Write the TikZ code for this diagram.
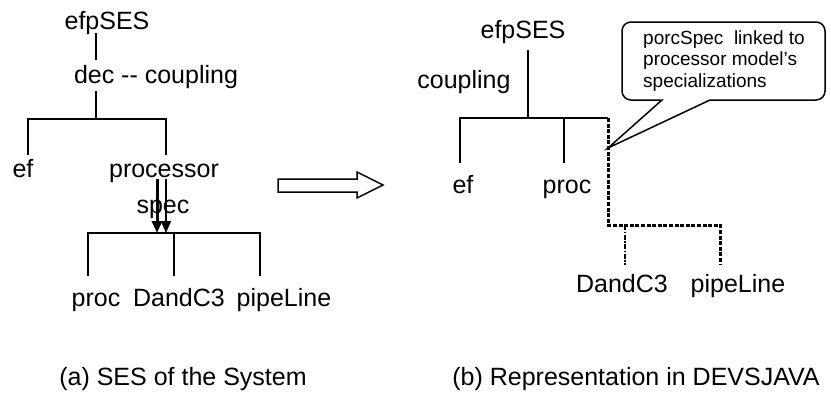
\documentclass[tikz,border=0pt]{standalone}
\usepackage{fontspec}
\setmainfont{Liberation Sans}
\usetikzlibrary{arrows.meta}
\begin{document}
\begin{tikzpicture}[x=1pt,y=-1pt,
  lbl/.style={font=\fontsize{25}{30}\selectfont, inner sep=0pt, anchor=base},
  note/.style={font=\fontsize{19}{21.5}\selectfont, inner sep=0pt, anchor=base west, align=left},
  tree/.style={line width=1.8pt},
  dashtree/.style={line width=3pt, dash pattern=on 4pt off 1.6pt},
  dashdot/.style={line width=1.8pt, dash pattern=on 5pt off 1.5pt on 1.5pt off 1.5pt},
  specarrow/.style={-{Triangle[length=12pt,width=10pt]}}]
\useasboundingbox (0,0) rectangle (831,394);

% ---------- left: SES ----------
\node[lbl] (LS) at (107,29) {efpSES};
\node[lbl] (Ldec) at (156,83) {dec -{}- coupling};
\node[lbl] (Lef) at (23,177) {ef};
\node[lbl] (Lproc) at (164,177) {processor};
\node[lbl] (Lspec) at (163,213) {spec};
\node[lbl] (Lp) at (96,306) {proc};
\node[lbl] (Ldc) at (179,306) {DandC3};
\node[lbl] (Lpl) at (284,306) {pipeLine};

\coordinate (La) at (96,33);
\coordinate (Lb) at (96,60);
\coordinate (Lc) at (96,91);
\coordinate (Lh) at (96,119);
\coordinate (LhL) at (28,119);
\coordinate (LhR) at (166,119);
\coordinate (LefT) at (28,155);
\coordinate (LprT) at (166,155);
\draw[tree] (La) -- (Lb);
\draw[tree] (Lc) -- (Lh);
\draw[tree] (LefT) -- (LhL) -- (LhR) -- (LprT);

\coordinate (A1s) at (157,179);
\coordinate (A1e) at (157,233);
\coordinate (A2s) at (166,179);
\coordinate (A2e) at (166,233);
\draw[specarrow, line width=3pt] (A1s) -- (A1e);
\draw[specarrow, line width=1.8pt] (A2s) -- (A2e);

\coordinate (BL) at (88,233);
\coordinate (BM) at (174,233);
\coordinate (BR) at (260,233);
\coordinate (BLd) at (88,276);
\coordinate (BMd) at (174,276);
\coordinate (BRd) at (260,276);
\draw[tree] (BLd) -- (BL) -- (BR) -- (BRd);
\draw[tree] (BM) -- (BMd);

% ---------- block arrow ----------
\draw[line width=1.5pt, fill=white] (278,179) -- (357,179) -- (357,172) -- (383,185)
  -- (357,198) -- (357,192) -- (278,192) -- cycle;

% ---------- right: DEVSJAVA ----------
\node[lbl] (RS) at (523,38) {efpSES};
\node[lbl] (Rcp) at (464,88) {coupling};
\node[lbl] (Ref) at (463,193) {ef};
\node[lbl] (Rpr) at (567,193) {proc};
\node[lbl] (Rdc) at (622,292) {DandC3};
\node[lbl] (Rpl) at (738,292) {pipeLine};

\coordinate (Ra) at (528,50);
\coordinate (Rh) at (528,118);
\coordinate (RhL) at (460,118);
\coordinate (RhM) at (564,118);
\coordinate (RhR) at (608,118);
\coordinate (RefT) at (460,163);
\coordinate (RprT) at (564,163);
\draw[tree] (Ra) -- (Rh);
\draw[tree] (RefT) -- (RhL) -- (RhR);
\draw[tree] (RhM) -- (RprT);

\coordinate (Rd1) at (608,225);
\coordinate (Rd2) at (720,225);
\coordinate (Rd3) at (720,265);
\coordinate (Rdc1) at (625,225);
\coordinate (Rdc2) at (625,265);
\draw[dashtree] (RhR) -- (Rd1) -- (Rd2) -- (Rd3);
\draw[dashdot] (Rdc1) -- (Rdc2);

% ---------- callout ----------
\coordinate (tip) at (608,148);
\draw[line width=1.5pt] (tip) -- (662,100) [rounded corners=9pt] -- (622,100) -- (622,22)
  -- (825,22) -- (825,100) [sharp corners] -- (710,100) -- cycle;
\node[note] (note) at (643,87) {porcSpec\ \ linked to\\processor model's\\specializations};

% ---------- captions ----------
\node[lbl] (capa) at (183,385) {(a) SES of the System};
\node[lbl] (capb) at (636,385) {(b) Representation in DEVSJAVA};
\end{tikzpicture}
\end{document}
